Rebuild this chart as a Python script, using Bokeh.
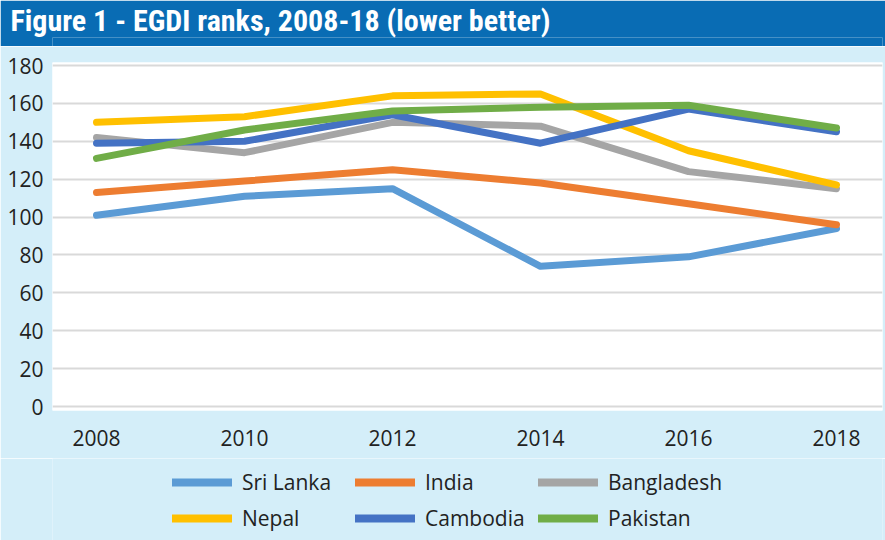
from bokeh.plotting import figure
from bokeh.models import (Range1d, FixedTicker, Legend, LegendItem)
from bokeh.layouts import column
from bokeh.embed import file_html
from bokeh.resources import INLINE

title_text = "Figure 1 - EGDI ranks, 2008-18 (lower better)"
years = [2008, 2010, 2012, 2014, 2016, 2018]
y_ticks = [0, 20, 40, 60, 80, 100, 120, 140, 160, 180]

countries = ["Sri Lanka", "India", "Bangladesh", "Nepal", "Cambodia", "Pakistan"]
sri_lanka = [101, 111, 115, 74, 79, 94]
india = [113, 119, 125, 118, 107, 96]
bangladesh = [142, 134, 150, 148, 124, 115]
nepal = [150, 153, 164, 165, 135, 117]
cambodia = [139, 140, 154, 139, 157, 145]
pakistan = [131, 146, 156, 158, 159, 147]
series = [sri_lanka, india, bangladesh, nepal, cambodia, pakistan]
colors = ["#5b9bd5", "#ed7d31", "#a5a5a5", "#ffc000", "#4472c4", "#70ad47"]

W = 885
BAR_BG = "#096cb4"
PAGE_BG = "#d4eef9"
TICK_FONT = "Open Sans"
TITLE_FONT = "Roboto Condensed"


def bare(fig):
    fig.axis.visible = False
    fig.grid.visible = False
    fig.outline_line_color = None


# ---- title bar ----
t = figure(width=W, height=46, output_backend="svg", toolbar_location=None,
           x_range=Range1d(0, 1), y_range=Range1d(0, 1),
           min_border_left=0, min_border_right=0, min_border_top=0, min_border_bottom=0)
bare(t)
t.background_fill_color = BAR_BG
t.border_fill_color = BAR_BG
t.title.text = title_text
t.title.text_color = "white"
t.title.text_font = TITLE_FONT
t.title.text_font_style = "bold"
t.title.text_font_size = "30px"
t.title.align = "left"
t.title.offset = -42
t.title.standoff = 0

# ---- main chart ----
p = figure(width=W, height=412, output_backend="svg", toolbar_location=None,
           x_range=Range1d(2007.4054, 2018.6216), y_range=Range1d(-2.1, 181.6),
           min_border_left=52, min_border_right=3, min_border_top=16, min_border_bottom=48)
p.border_fill_color = PAGE_BG
p.background_fill_color = "white"
p.outline_line_color = None

for name, vals, col in zip(countries, series, colors):
    p.line(years, vals, line_color=col, line_width=7, line_join="round", line_cap="round")

p.xaxis.ticker = FixedTicker(ticks=years)
p.yaxis.ticker = FixedTicker(ticks=y_ticks)
for ax in (p.xaxis[0], p.yaxis[0]):
    ax.axis_line_color = None
    ax.major_tick_line_color = None
    ax.minor_tick_line_color = None
    ax.major_label_text_font = TICK_FONT
    ax.major_label_text_font_size = "21px"
    ax.major_label_text_color = "#222222"
p.yaxis.major_label_standoff = 3
p.xaxis.major_label_standoff = 13

p.xgrid.grid_line_color = None
p.ygrid.grid_line_color = "#d9d9d9"
p.ygrid.grid_line_width = 2

# ---- legend strip (its key lines are the same series, kept out of view) ----
lg = figure(width=W, height=82, output_backend="svg", toolbar_location=None,
            x_range=Range1d(0, 1), y_range=Range1d(0, 1),
            min_border_left=0, min_border_right=0, min_border_top=0, min_border_bottom=0)
bare(lg)
lg.background_fill_color = PAGE_BG
lg.border_fill_color = PAGE_BG
keys = [lg.line(years, vals, line_color=col, line_width=8, line_cap="round")
        for vals, col in zip(series, colors)]
legend = Legend(items=[LegendItem(label=n, renderers=[r]) for n, r in zip(countries, keys)],
                location=(120, 8), orientation="horizontal", ncols=3,
                glyph_width=60, glyph_height=26, label_width=105, label_height=26,
                label_standoff=10, spacing=8, padding=0, margin=0,
                border_line_color=None, background_fill_alpha=0,
                label_text_font=TICK_FONT, label_text_font_size="21px",
                label_text_color="#222222")
lg.add_layout(legend, "center")

layout = column(t, p, lg, spacing=0)
open("out.html", "w").write(file_html(layout, INLINE))
